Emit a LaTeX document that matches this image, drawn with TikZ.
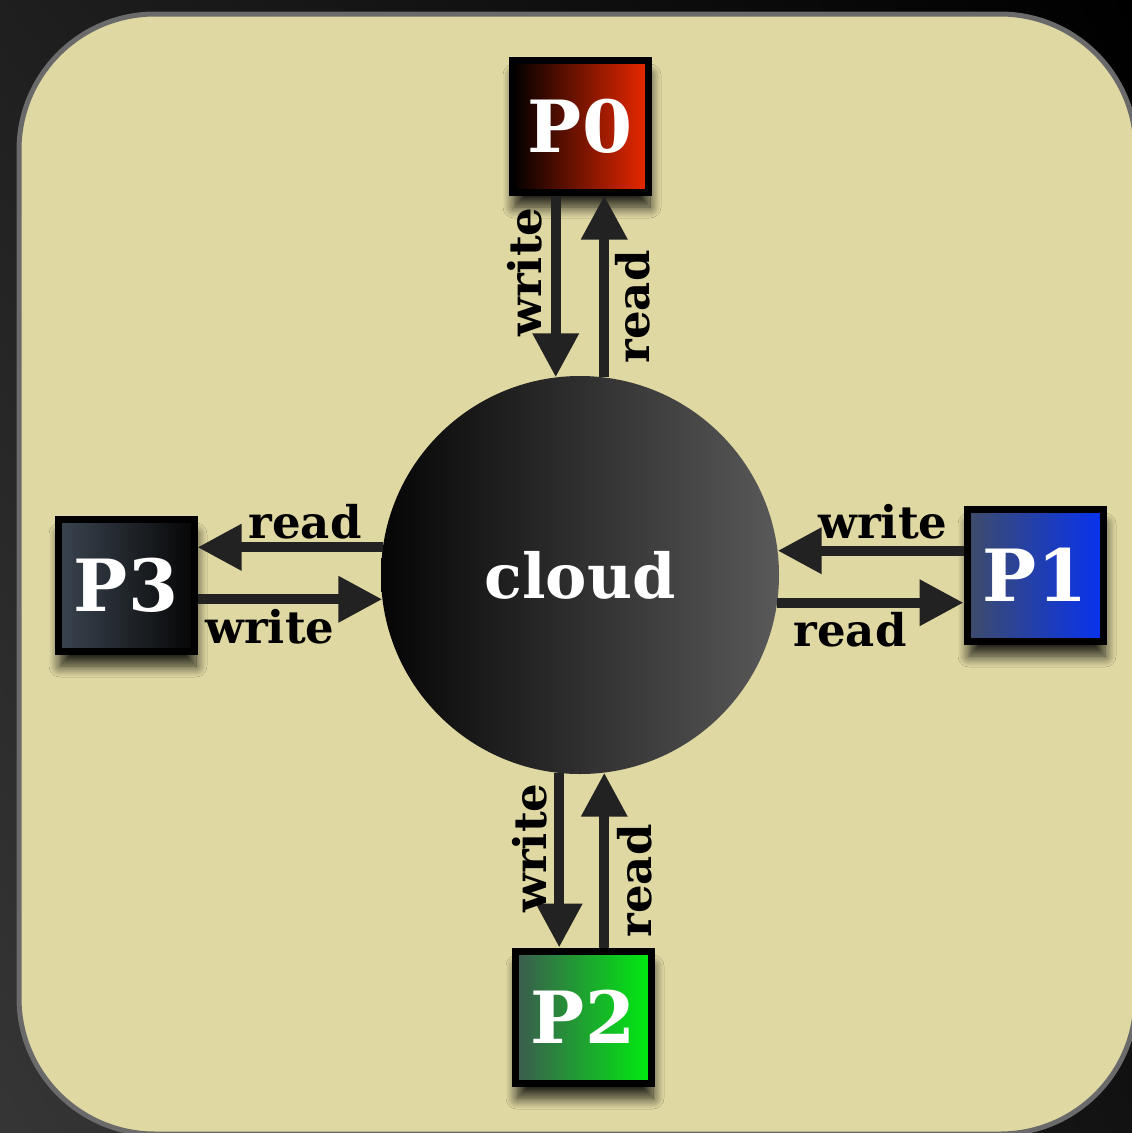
\documentclass[tikz,border=0pt]{standalone}
\usepackage{fontspec}
\newfontfamily\slab{DejaVu Serif}
\usetikzlibrary{arrows.meta,shadows.blur,shadings}
\definecolor{panel}{HTML}{DFD8A2}
\definecolor{rim}{HTML}{6A6A6A}
\definecolor{ink}{HTML}{222222}
\tikzset{
  proc/.style={draw=black, line width=7pt, minimum width=136pt, minimum height=132pt,
    inner sep=0pt, text=white, font=\slab\bfseries\fontsize{72}{72}\selectfont,
    blur shadow={shadow xshift=2pt, shadow yshift=-15pt, shadow opacity=85, shadow blur radius=11pt, shadow blur steps=12}},
  arr/.style={draw=ink, line width=10pt, -{Triangle[width=44pt,length=44pt]}},
  lbl/.style={text=black, inner sep=0pt, font=\slab\bfseries\fontsize{45}{45}\selectfont},
}
\begin{document}
\begin{tikzpicture}[x=1pt,y=-1pt]
\useasboundingbox (0,0) rectangle (1132,1133);
% backdrop and panel
\shade[upper left=black!88, upper right=black, lower left=black!79, lower right=black!93]
  (0,0) rectangle (1132,1133);
\draw[rim, fill=panel, line width=5pt, rounded corners=136pt] (19,14) rectangle (1136,1134);
% central store
\node[circle, minimum size=398pt, inner sep=0pt, left color=black!98, right color=black!65,
      text=white, font=\slab\bfseries\fontsize{62}{62}\selectfont] (cloud) at (580,575) {cloud};
% processes
\node[proc, left color=black, right color={rgb,255:red,234;green,40;blue,0}] (p0) at (580,126) {P0};
\node[proc, left color={rgb,255:red,62;green,76;blue,104}, right color={rgb,255:red,8;green,50;blue,240}] (p1) at (1035,575) {P1};
\node[proc, left color={rgb,255:red,60;green,88;blue,80}, right color={rgb,255:red,0;green,236;blue,16}] (p2) at (583,1017) {P2};
\node[proc, left color={rgb,255:red,58;green,68;blue,80}, right color={rgb,255:red,6;green,6;blue,6}] (p3) at (126,585) {P3};
% links
\draw[arr] (cloud.97 |- p0.south) -- (cloud.97);
\draw[arr] (cloud.83) -- (cloud.83 |- p0.south);
\draw[arr] (cloud.7.5 -| p1.west) -- (cloud.7.5);
\draw[arr] (cloud.-8.4) -- (cloud.-8.4 -| p1.west);
\draw[arr] (cloud.264.2) -- (cloud.264.2 |- p2.north);
\draw[arr] (cloud.277.8 |- p2.north) -- (cloud.277.8);
\draw[arr] (cloud.172.2) -- (cloud.172.2 -| p3.east);
\draw[arr] (cloud.187.2 -| p3.east) -- (cloud.187.2);
% link labels
\node[lbl, rotate=90] (w0) at (525,272) {write};
\node[lbl, rotate=90] (r0) at (633,307) {read};
\node[lbl] (w1) at (883,522) {write};
\node[lbl] (r1) at (850,630) {read};
\node[lbl, rotate=90] (w2) at (530,848) {write};
\node[lbl, rotate=90] (r2) at (635,881) {read};
\node[lbl] (r3) at (305,522) {read};
\node[lbl] (w3) at (270,627) {write};
\end{tikzpicture}
\end{document}
